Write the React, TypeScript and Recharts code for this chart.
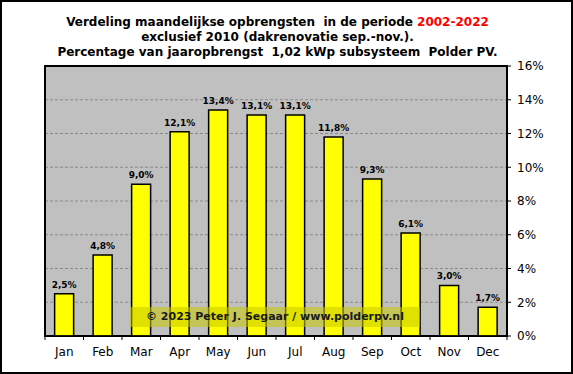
import React from "react";
import {
  BarChart,
  Bar,
  XAxis,
  YAxis,
  CartesianGrid,
  LabelList,
  ReferenceArea,
} from "recharts";

const months = ["Jan", "Feb", "Mar", "Apr", "May", "Jun", "Jul", "Aug", "Sep", "Oct", "Nov", "Dec"];
const shares = [2.5, 4.8, 9.0, 12.1, 13.4, 13.1, 13.1, 11.8, 9.3, 6.1, 3.0, 1.7];
const yTicks = [0, 2, 4, 6, 8, 10, 12, 14, 16];

type Row = {
  month: string;
  share: number;
};

const data: Row[] = months.map((month, i) => ({ month, share: shares[i] }));

const FONT = "'DejaVu Sans', Verdana, sans-serif";
const TICK_SIZE = 4;
const TICK_MARGIN = 7;

const formatPct = (v: number) => `${v.toFixed(1).replace(".", ",")}%`;

type TickProps = {
  x: number;
  y: number;
  index: number;
  payload: { value: string; offset: number };
};

// month label plus a tick mark on the category boundaries
const MonthTick = ({ x, y, index, payload }: TickProps) => {
  const top = y - TICK_MARGIN - TICK_SIZE;
  const bottom = y - TICK_MARGIN;
  const half = payload.offset;
  return (
    <g>
      <line x1={x - half} x2={x - half} y1={top} y2={bottom} stroke="#000" />
      {index === months.length - 1 && (
        <line x1={x + half} x2={x + half} y1={top} y2={bottom} stroke="#000" />
      )}
      <text
        x={x}
        y={y}
        dy="0.71em"
        textAnchor="middle"
        fontSize={12}
        fontFamily={FONT}
        fill="#000"
      >
        {payload.value}
      </text>
    </g>
  );
};

export default function App() {
  return (
    <div
      style={{
        position: "fixed",
        left: 0,
        top: 0,
        width: 573,
        height: 374,
        background: "#fff",
        fontFamily: FONT,
      }}
    >
      <div
        style={{
          position: "absolute",
          left: 0,
          top: 15,
          width: 555,
          textAlign: "center",
          fontSize: 12,
          fontWeight: "bold",
          lineHeight: "15px",
          whiteSpace: "pre",
          color: "#000",
        }}
      >
        <div>
          Verdeling maandelijkse opbrengsten  in de periode{" "}
          <span style={{ color: "#ff0000" }}>2002-2022</span>
        </div>
        <div>exclusief 2010 (dakrenovatie sep.-nov.).</div>
        <div>Percentage van jaaropbrengst  1,02 kWp subsysteem  Polder PV.</div>
      </div>

      <div style={{ position: "absolute", left: 0, top: 0 }}>
        <BarChart
          width={573}
          height={374}
          data={data}
          barCategoryGap="25%"
          margin={{ top: 66, right: 6, left: 45, bottom: 8 }}
        >
          <CartesianGrid
            vertical={false}
            fill="#c0c0c0"
            stroke="#8a8a8a"
            strokeDasharray="3 2"
          />
          <XAxis
            dataKey="month"
            height={30}
            tickLine={false}
            tickSize={TICK_SIZE}
            tickMargin={TICK_MARGIN}
            axisLine={{ stroke: "#000" }}
            interval={0}
            tick={(props: any) => <MonthTick {...props} />}
          />
          <YAxis
            orientation="right"
            width={60}
            domain={[0, 16]}
            ticks={yTicks}
            interval={0}
            tickFormatter={(v: number) => `${v}%`}
            tickSize={TICK_SIZE}
            tickMargin={6}
            tickLine={{ stroke: "#000" }}
            axisLine={{ stroke: "#000" }}
            tick={{ fill: "#000", fontSize: 12, fontFamily: FONT, textAnchor: "start" }}
          />
          <ReferenceArea
            y1={0}
            y2={16}
            fill="none"
            stroke="#000"
            strokeWidth={2}
            ifOverflow="visible"
          />
          <Bar
            dataKey="share"
            fill="#ffff00"
            stroke="#000"
            strokeWidth={1.5}
            isAnimationActive={false}
          >
            <LabelList
              dataKey="share"
              position="top"
              offset={6}
              formatter={(v: any) => formatPct(Number(v))}
              style={{ fontSize: 9, fontWeight: "bold", fontFamily: FONT, fill: "#000" }}
            />
          </Bar>
        </BarChart>
      </div>

      <div
        style={{
          position: "absolute",
          left: 130,
          top: 307,
          width: 290,
          height: 20,
          lineHeight: "20px",
          background: "rgba(200, 200, 0, 0.55)",
          textAlign: "center",
          fontSize: 11,
          fontWeight: "bold",
          color: "#1a1a1a",
        }}
      >
        © 2023 Peter J. Segaar / www.polderpv.nl
      </div>

      <div
        style={{
          position: "absolute",
          inset: 0,
          border: "2px solid #000",
          pointerEvents: "none",
        }}
      />
    </div>
  );
}
